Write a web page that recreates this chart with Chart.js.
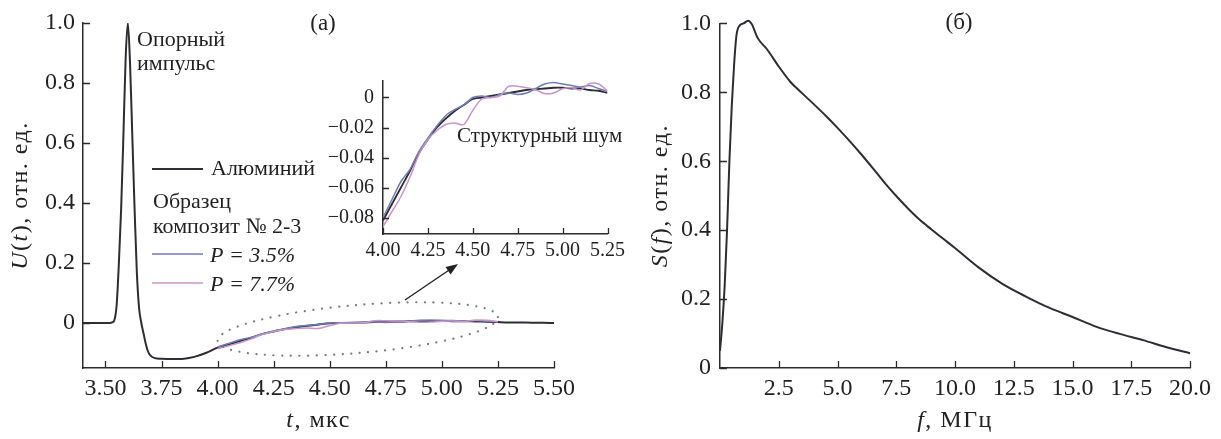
<!DOCTYPE html>
<html>
<head>
<meta charset="utf-8">
<script src="https://cdn.jsdelivr.net/npm/chart.js@4.4.0/dist/chart.umd.min.js"></script>
<style>
  body { margin: 0; background: #fff; }
  #wrap { position: relative; width: 1221px; height: 439px; overflow: hidden; }
  canvas { position: absolute; }
</style>
</head>
<body>
<div id="wrap">
  <canvas id="main" width="610" height="439" style="left:0;top:0"></canvas>
  <canvas id="inset" width="330" height="215" style="left:300px;top:60px"></canvas>
  <canvas id="spec" width="611" height="439" style="left:610px;top:0"></canvas>
</div>
<script>
// ---- data ----
// (а) reference pulse, aluminium
const alT = [3.40, 3.45, 3.50, 3.52, 3.53, 3.54, 3.55, 3.56, 3.57, 3.58, 3.59, 3.60, 3.61, 3.62, 3.63,
  3.64, 3.65, 3.66, 3.67, 3.68, 3.69, 3.70, 3.72, 3.75, 3.80, 3.85, 3.90, 3.95,
  4.00, 4.05, 4.10, 4.15, 4.20, 4.25, 4.30, 4.35, 4.40, 4.45, 4.50, 4.55, 4.60, 4.65, 4.70,
  4.75, 4.80, 4.85, 4.90, 4.95, 5.00, 5.05, 5.10, 5.15, 5.20, 5.25,
  5.30, 5.35, 5.40, 5.45, 5.50];
const alU = [0, 0, 0, 0, 0.002, 0.01, 0.06, 0.2, 0.38, 0.62, 0.88, 1.0, 0.86, 0.62, 0.38,
  0.17, 0.05, 0.0, -0.035, -0.07, -0.095, -0.108, -0.117, -0.119, -0.12, -0.119, -0.112, -0.099,
  -0.082, -0.071, -0.060, -0.049, -0.037, -0.028, -0.020, -0.014, -0.009, -0.005, -0.001, 0.000, 0.001, 0.002, 0.003,
  0.004, 0.005, 0.0055, 0.006, 0.0065, 0.0065, 0.006, 0.006, 0.005, 0.0045, 0.003,
  0.002, 0.002, 0.001, 0.001, 0];

// composite sample, structural noise region
const noiseT = [4.00, 4.05, 4.10, 4.15, 4.20, 4.25, 4.30, 4.35, 4.40, 4.45, 4.50, 4.55, 4.60,
  4.65, 4.70, 4.75, 4.80, 4.85, 4.90, 4.95, 5.00, 5.05, 5.10, 5.15, 5.20, 5.25];
const p35 = [-0.080, -0.068, -0.056, -0.048, -0.036, -0.027, -0.019, -0.012, -0.008, -0.005, 0.000, 0.001, 0.000,
  0.002, 0.003, 0.002, 0.003, 0.006, 0.009, 0.010, 0.009, 0.008, 0.007, 0.008, 0.006, 0.004];
const p77 = [-0.086, -0.076, -0.066, -0.053, -0.038, -0.028, -0.022, -0.018, -0.017, -0.018, -0.0086, -0.001, 0.000,
  0.001, 0.0075, 0.0075, 0.0065, 0.0052, 0.0026, 0.003, 0.0058, 0.0065, 0.005, 0.0093, 0.009, 0.0045];

// (б) spectrum
const specF = [0, 0.1, 0.2, 0.3, 0.4, 0.5, 0.6, 0.7, 0.85, 1.0, 1.2, 1.35, 1.6, 2.0, 2.5, 3.0, 3.5, 4.0, 4.5,
  5.0, 5.5, 6.0, 6.5, 7.0, 7.5, 8.0, 8.5, 9.0, 9.5, 10, 11, 12, 13, 14, 15, 16, 17, 18, 19, 20];
const specS = [0.05, 0.13, 0.24, 0.40, 0.60, 0.76, 0.88, 0.965, 0.995, 1.0, 1.008, 0.998, 0.958, 0.925, 0.875, 0.83, 0.797, 0.765, 0.732,
  0.697, 0.66, 0.621, 0.58, 0.538, 0.499, 0.463, 0.43, 0.402, 0.375, 0.348, 0.292, 0.245, 0.208, 0.175, 0.148, 0.12, 0.099, 0.081, 0.06, 0.043];

// tick labels
const tTicks = [3.50, 3.75, 4.00, 4.25, 4.50, 4.75, 5.00, 5.25, 5.50];
const uTicks = [0, 0.2, 0.4, 0.6, 0.8, 1.0];
const insetTTicks = [4.00, 4.25, 4.50, 4.75, 5.00, 5.25];
const insetUTicks = [0, -0.02, -0.04, -0.06, -0.08];
const fTicks = [2.5, 5.0, 7.5, 10.0, 12.5, 15.0, 17.5, 20.0];
const sTicks = [0, 0.2, 0.4, 0.6, 0.8, 1.0];

const SERIF = "'Liberation Serif', 'DejaVu Serif', serif";
const INK = '#222';
const AXIS = '#2b2b2b';
const DARK = '#2d2d33';
const BLUE = '#6f7db4';
const PINK = '#c894c9';

const pts = (xs, ys) => xs.map((x, i) => ({ x, y: ys[i] }));

function richText(ctx, parts, x, y, size, rot, spacing) {
  ctx.save();
  ctx.translate(x, y);
  if (rot) ctx.rotate(rot);
  ctx.textBaseline = 'middle';
  ctx.textAlign = 'left';
  ctx.fillStyle = INK;
  ctx.letterSpacing = (spacing || 0) + 'px';
  const fonts = parts.map(p => (p[1] ? 'italic ' : '') + size + 'px ' + SERIF);
  let w = 0;
  parts.forEach((p, i) => { ctx.font = fonts[i]; w += ctx.measureText(p[0]).width; });
  let cx = -w / 2;
  parts.forEach((p, i) => {
    ctx.font = fonts[i];
    ctx.fillText(p[0], cx, 0);
    cx += ctx.measureText(p[0]).width;
  });
  ctx.restore();
}

// ticks pointing into the plot, as in the figure
const inTicks = {
  id: 'inTicks',
  afterDraw(chart, args, opts) {
    const { ctx, chartArea: a, scales: { x, y } } = chart;
    const len = opts.len || 7;
    ctx.save();
    ctx.strokeStyle = AXIS;
    ctx.lineWidth = 1.3;
    ctx.beginPath();
    x.ticks.forEach(t => {
      const p = Math.round(x.getPixelForValue(t.value)) + 0.5;
      ctx.moveTo(p, a.bottom); ctx.lineTo(p, a.bottom - len);
    });
    y.ticks.forEach(t => {
      const p = Math.round(y.getPixelForValue(t.value)) + 0.5;
      ctx.moveTo(a.left, p); ctx.lineTo(a.left + len, p);
    });
    ctx.stroke();
    ctx.restore();
  }
};

function axisX(min, max, ticks, fmt, size, pad, h) {
  return {
    type: 'linear', min, max,
    afterBuildTicks: s => { s.ticks = ticks.map(v => ({ value: v })); },
    afterFit: s => { s.height = h; },
    grid: { display: true, drawOnChartArea: false, drawTicks: false },
    border: { display: true, color: AXIS, width: 1.5 },
    ticks: { autoSkip: false, maxRotation: 0, padding: pad, color: INK,
      font: { family: SERIF, size }, callback: fmt }
  };
}
function axisY(min, max, ticks, fmt, size, pad, w) {
  return {
    type: 'linear', min, max,
    afterBuildTicks: s => { s.ticks = ticks.map(v => ({ value: v })); },
    afterFit: s => { s.width = w; },
    grid: { display: true, drawOnChartArea: false, drawTicks: false },
    border: { display: true, color: AXIS, width: 1.5 },
    ticks: { autoSkip: false, padding: pad, color: INK,
      font: { family: SERIF, size }, callback: fmt }
  };
}

const fmt1 = v => (v === 0 ? '0' : v.toFixed(1));
const fmt2 = v => v.toFixed(2);
const fmtNeg = v => (v === 0 ? '0' : '\u2212' + Math.abs(v).toFixed(2));

// labels, legend, dotted ellipse and arrow of panel (а)
const panelA = {
  id: 'panelA',
  afterDraw(chart) {
    const { ctx, chartArea: a, scales: { x, y } } = chart;
    richText(ctx, [['U', 1], ['(', 0], ['t', 1], ['), отн. ед.', 0]], 21, (a.top + a.bottom) / 2, 24, -Math.PI / 2, 1.5);
    richText(ctx, [['t', 1], [', мкс', 0]], (a.left + a.right) / 2, 421, 24, 0, 1.5);
    richText(ctx, [['(а)', 0]], 323, 24, 23);

    ctx.save();
    ctx.fillStyle = INK;
    ctx.textBaseline = 'middle';
    ctx.font = '22px ' + SERIF;
    ctx.fillText('Опорный', 137, 40);
    ctx.fillText('импульс', 137, 64);
    ctx.fillText('Алюминий', 211, 169);
    ctx.fillText('Образец', 153, 202);
    ctx.fillText('композит № 2-3', 153, 227);
    ctx.font = 'italic 22px ' + SERIF;
    ctx.fillText('P = 3.5%', 210, 256);
    ctx.fillText('P = 7.7%', 210, 285);
    const leg = [[169, DARK, 2], [254, BLUE, 1.6], [283, PINK, 1.6]];
    leg.forEach(([ly, c, w]) => {
      ctx.strokeStyle = c; ctx.lineWidth = w;
      ctx.beginPath(); ctx.moveTo(152, ly); ctx.lineTo(203, ly); ctx.stroke();
    });

    // dotted ellipse around the zoomed interval
    const x1 = x.getPixelForValue(insetTTicks[0]), y1 = y.getPixelForValue(-0.06);
    const x2 = x.getPixelForValue(insetTTicks[insetTTicks.length - 1]), y2 = y.getPixelForValue(0.02);
    const cx = (x1 + x2) / 2, cy = (y1 + y2) / 2;
    const rx = Math.hypot(x2 - x1, y2 - y1) / 2;
    const rot = Math.atan2(y2 - y1, x2 - x1);
    ctx.strokeStyle = '#7a7a7a';
    ctx.lineWidth = 2.2;
    ctx.lineCap = 'round';
    ctx.setLineDash([0.1, 8.5]);
    ctx.beginPath();
    ctx.ellipse(cx, cy, rx, 24, rot, 0, Math.PI * 2);
    ctx.stroke();
    ctx.setLineDash([]);

    // arrow to the inset
    const ax0 = 405, ay0 = 300, ax1 = 458, ay1 = 264;
    const ang = Math.atan2(ay1 - ay0, ax1 - ax0);
    ctx.strokeStyle = '#222'; ctx.fillStyle = '#222'; ctx.lineWidth = 1.4; ctx.lineCap = 'butt';
    ctx.beginPath(); ctx.moveTo(ax0, ay0);
    ctx.lineTo(ax1 - 8 * Math.cos(ang), ay1 - 8 * Math.sin(ang)); ctx.stroke();
    ctx.beginPath();
    ctx.moveTo(ax1, ay1);
    ctx.lineTo(ax1 - 12 * Math.cos(ang) + 4.5 * Math.sin(ang), ay1 - 12 * Math.sin(ang) - 4.5 * Math.cos(ang));
    ctx.lineTo(ax1 - 12 * Math.cos(ang) - 4.5 * Math.sin(ang), ay1 - 12 * Math.sin(ang) + 4.5 * Math.cos(ang));
    ctx.closePath(); ctx.fill();
    ctx.restore();
  }
};

const insetLabel = {
  id: 'insetLabel',
  afterDraw(chart) {
    const { ctx } = chart;
    ctx.save();
    ctx.fillStyle = INK;
    ctx.textBaseline = 'middle';
    ctx.font = '21px ' + SERIF;
    ctx.fillText('Структурный шум', 157, 76);
    ctx.restore();
  }
};

const panelB = {
  id: 'panelB',
  afterDraw(chart) {
    const { ctx, chartArea: a } = chart;
    richText(ctx, [['S', 1], ['(', 0], ['f', 1], ['), отн. ед.', 0]], 51, (a.top + a.bottom) / 2, 24, -Math.PI / 2, 1.5);
    richText(ctx, [['f', 1], [', МГц', 0]], (a.left + a.right) / 2, 421, 24, 0, 1.5);
    richText(ctx, [['(б)', 0]], 349, 23, 23);
  }
};

const lineDs = (label, data, color, width, extra) => Object.assign({
  label, data, borderColor: color, borderWidth: width, pointRadius: 0, fill: false
}, extra || {});

const common = {
  responsive: false,
  animation: false,
  events: [],
  plugins: { legend: { display: false }, tooltip: { enabled: false } }
};

// (а) main time signal
new Chart(document.getElementById('main'), {
  type: 'line',
  data: { datasets: [
    lineDs('P = 7.7%', pts(noiseT, p77), PINK, 1.5, { tension: 0.3 }),
    lineDs('P = 3.5%', pts(noiseT, p35), BLUE, 1.5, { tension: 0.3 }),
    lineDs('Алюминий', pts(alT, alU), DARK, 2, { cubicInterpolationMode: 'monotone' })
  ] },
  options: Object.assign({}, common, {
    layout: { padding: { top: 23, right: 56, left: 0, bottom: 0 } },
    plugins: Object.assign({}, common.plugins, { inTicks: { len: 7 } }),
    scales: {
      x: axisX(3.4, 5.5, tTicks, fmt2, 24, 6, 71),
      y: axisY(-0.15, 1.0, uTicks, fmt1, 24, 8, 83)
    }
  }),
  plugins: [inTicks, panelA]
});

// inset: structural noise
const inAl = alT.map((t, i) => ({ x: t, y: alU[i] })).filter(p => p.x >= 4.0 && p.x <= 5.25);
new Chart(document.getElementById('inset'), {
  type: 'line',
  data: { datasets: [
    lineDs('P = 7.7%', pts(noiseT, p77), PINK, 1.5, { tension: 0.3 }),
    lineDs('P = 3.5%', pts(noiseT, p35), BLUE, 1.5, { tension: 0.3 }),
    lineDs('Алюминий', inAl, DARK, 1.8, { tension: 0.3 })
  ] },
  options: Object.assign({}, common, {
    layout: { padding: { top: 17, right: 17, left: 0, bottom: 0 } },
    plugins: Object.assign({}, common.plugins, { inTicks: { len: 6 } }),
    scales: {
      x: axisX(4.0, 5.25, insetTTicks, fmt2, 20, 5, 41),
      y: axisY(-0.091, 0.011, insetUTicks, fmtNeg, 20, 9, 83)
    }
  }),
  plugins: [inTicks, insetLabel]
});

// (б) spectrum
new Chart(document.getElementById('spec'), {
  type: 'line',
  data: { datasets: [
    lineDs('S(f)', pts(specF, specS), DARK, 2, { cubicInterpolationMode: 'monotone', clip: false })
  ] },
  options: Object.assign({}, common, {
    layout: { padding: { top: 23, right: 31, left: 0, bottom: 0 } },
    plugins: Object.assign({}, common.plugins, { inTicks: { len: 7 } }),
    scales: {
      x: axisX(0, 20, fTicks, fmt1, 24, 6, 71),
      y: axisY(0, 1.0, sTicks, fmt1, 24, 9, 110)
    }
  }),
  plugins: [inTicks, panelB]
});
</script>
</body>
</html>
